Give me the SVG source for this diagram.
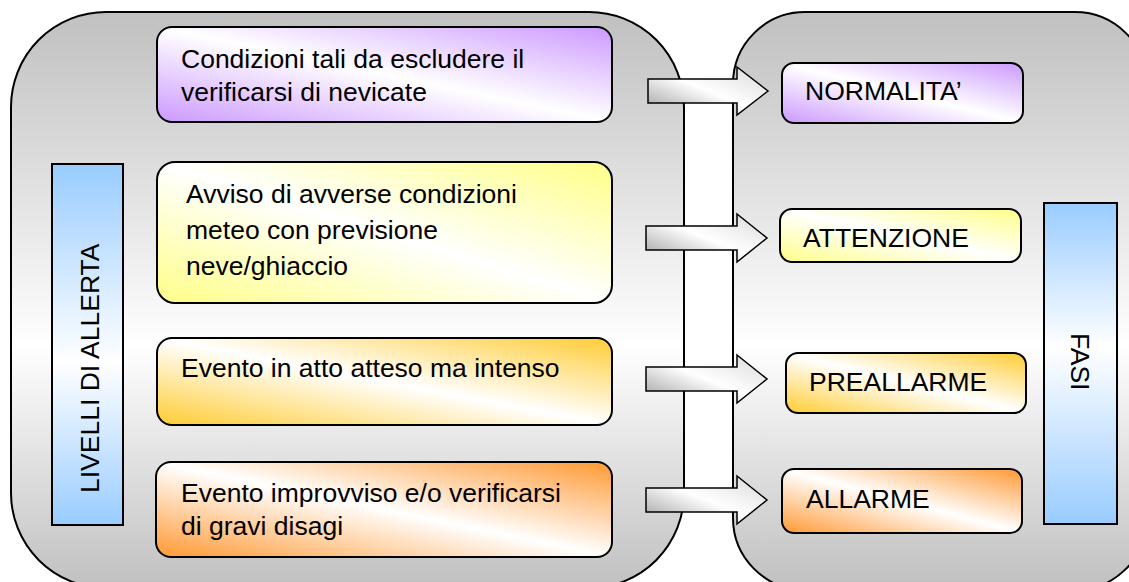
<svg xmlns="http://www.w3.org/2000/svg" width="1129" height="582" viewBox="0 0 1129 582">
<style>
.t{font-family:"Liberation Sans",Arial,sans-serif;font-size:26.5px;fill:#000}
.bx{stroke:#000;stroke-width:2}
.ar{stroke:#000;stroke-width:1.5;fill:url(#gArrow)}
</style>
<defs>
<linearGradient id="gCont" gradientUnits="userSpaceOnUse" x1="0" y1="12" x2="0" y2="588">
<stop offset="0" stop-color="#c0c0c0"/><stop offset="0.58" stop-color="#ffffff"/><stop offset="1" stop-color="#c0c0c0"/>
</linearGradient>
<linearGradient id="gBlueL" x1="0" y1="0" x2="0" y2="1">
<stop offset="0" stop-color="#99ccff"/><stop offset="0.55" stop-color="#ffffff"/><stop offset="1" stop-color="#99ccff"/>
</linearGradient>
<linearGradient id="gBlueR" x1="0" y1="0" x2="0" y2="1">
<stop offset="0" stop-color="#99ccff"/><stop offset="0.45" stop-color="#ffffff"/><stop offset="1" stop-color="#99ccff"/>
</linearGradient>
<linearGradient id="gPurple" x1="1" y1="0" x2="0" y2="1">
<stop offset="0" stop-color="#cc99ff"/><stop offset="0.5" stop-color="#ffffff"/><stop offset="1" stop-color="#cc99ff"/>
</linearGradient>
<linearGradient id="gYellow" x1="1" y1="0" x2="0" y2="1">
<stop offset="0" stop-color="#ffff88"/><stop offset="0.5" stop-color="#ffffff"/><stop offset="1" stop-color="#ffff88"/>
</linearGradient>
<linearGradient id="gGold" x1="1" y1="0" x2="0" y2="1">
<stop offset="0" stop-color="#ffcc33"/><stop offset="0.5" stop-color="#ffffff"/><stop offset="1" stop-color="#ffcc33"/>
</linearGradient>
<linearGradient id="gOrange" x1="1" y1="0" x2="0" y2="1">
<stop offset="0" stop-color="#ff9933"/><stop offset="0.5" stop-color="#ffffff"/><stop offset="1" stop-color="#ff9933"/>
</linearGradient>
<linearGradient id="gArrow" x1="0" y1="1" x2="1" y2="0">
<stop offset="0" stop-color="#9a9a9a"/><stop offset="0.5" stop-color="#ffffff"/><stop offset="1" stop-color="#d8d8d8"/>
</linearGradient>
</defs>

<g id="container-livelli">
<rect x="11" y="12" width="673" height="576" rx="95" ry="95" fill="url(#gCont)" class="bx"/>
</g>
<g id="container-fasi">
<rect x="733" y="12" width="414" height="578" rx="72" ry="72" fill="url(#gCont)" class="bx"/>
</g>

<g id="bar-livelli">
<rect x="52" y="164" width="71" height="361" fill="url(#gBlueL)" class="bx"/>
<text class="t" font-size="27" transform="translate(99,493) rotate(-90)">LIVELLI DI ALLERTA</text>
</g>
<g id="bar-fasi">
<rect x="1044" y="203" width="73" height="321" fill="url(#gBlueR)" class="bx"/>
<text class="t" font-size="27" transform="translate(1071,333) rotate(90)">FASI</text>
</g>

<g id="livello-1">
<rect x="157" y="27" width="455" height="95" rx="15" fill="url(#gPurple)" class="bx"/>
<text class="t" x="181" y="68">Condizioni tali da escludere il</text>
<text class="t" x="181" y="101">verificarsi di nevicate</text>
</g>
<g id="livello-2">
<rect x="157" y="162" width="455" height="141" rx="18" fill="url(#gYellow)" class="bx"/>
<text class="t" x="186" y="203">Avviso di avverse condizioni</text>
<text class="t" x="186" y="239">meteo con previsione</text>
<text class="t" x="186" y="275">neve/ghiaccio</text>
</g>
<g id="livello-3">
<rect x="157" y="338" width="455" height="87" rx="15" fill="url(#gGold)" class="bx"/>
<text class="t" x="181" y="377">Evento in atto atteso ma intenso</text>
</g>
<g id="livello-4">
<rect x="156" y="462" width="456" height="95" rx="15" fill="url(#gOrange)" class="bx"/>
<text class="t" x="181" y="502">Evento improvviso e/o verificarsi</text>
<text class="t" x="181" y="535">di gravi disagi</text>
</g>

<g id="fase-normalita">
<rect x="782" y="63" width="241" height="60" rx="12" fill="url(#gPurple)" class="bx"/>
<text class="t" x="805" y="100">NORMALITA’</text>
</g>
<g id="fase-attenzione">
<rect x="780" y="209" width="241" height="53" rx="12" fill="url(#gYellow)" class="bx"/>
<text class="t" x="803" y="247">ATTENZIONE</text>
</g>
<g id="fase-preallarme">
<rect x="786" y="353" width="240" height="60" rx="12" fill="url(#gGold)" class="bx"/>
<text class="t" x="809" y="391">PREALLARME</text>
</g>
<g id="fase-allarme">
<rect x="782" y="469" width="240" height="64" rx="12" fill="url(#gOrange)" class="bx"/>
<text class="t" x="806" y="508">ALLARME</text>
</g>

<g id="connectors">
<path class="ar" d="M648,79 H737 V67 L768,91 L737,115 V103 H648 Z"/>
<path class="ar" d="M646,226 H737 V214 L767,238 L737,262 V250 H646 Z"/>
<path class="ar" d="M646,367 H737 V355 L767,379 L737,403 V391 H646 Z"/>
<path class="ar" d="M646,488 H737 V476 L767,500 L737,524 V512 H646 Z"/>
</g>
</svg>
